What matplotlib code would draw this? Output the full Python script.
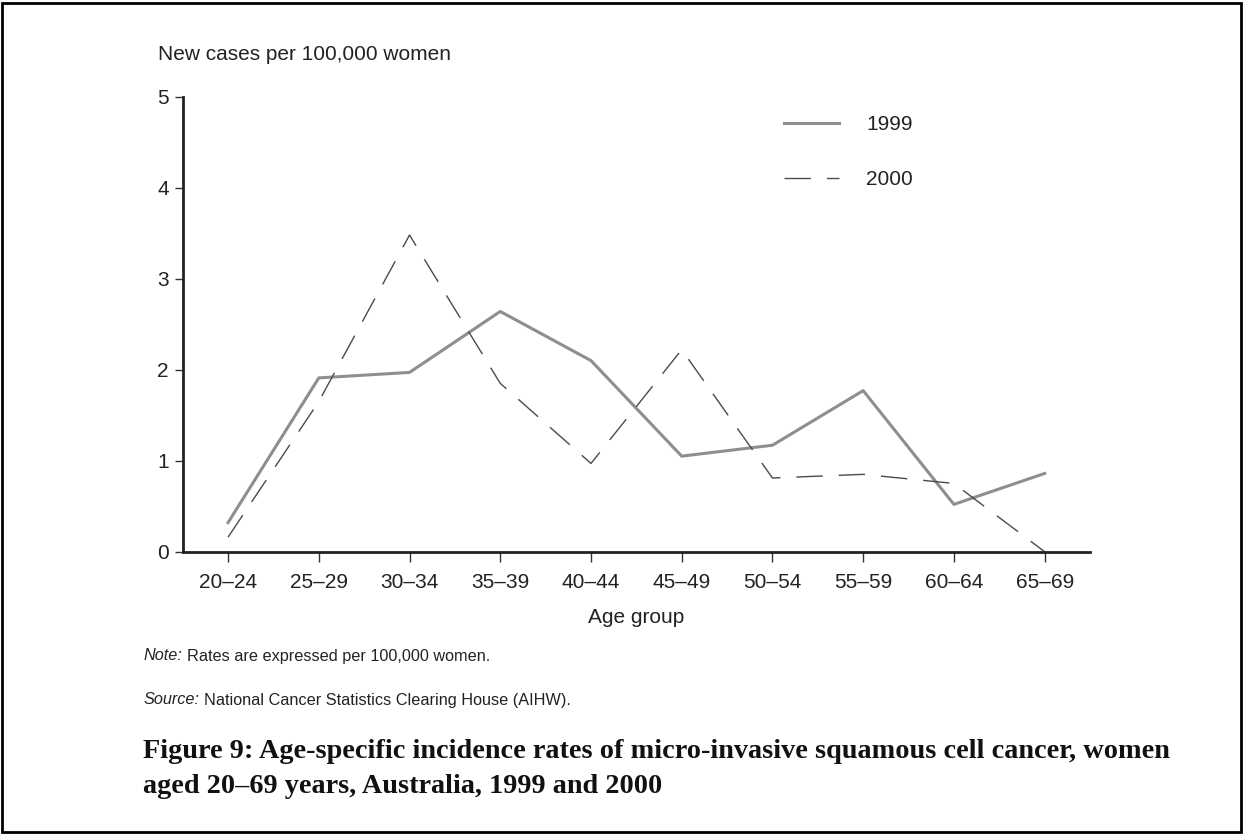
import matplotlib
matplotlib.use("Agg")
import matplotlib.pyplot as plt
from matplotlib.patches import Rectangle

age_groups = ["20\u201324", "25\u201329", "30\u201334", "35\u201339", "40\u201344",
              "45\u201349", "50\u201354", "55\u201359", "60\u201364", "65\u201369"]
rate_1999 = [0.32, 1.91, 1.97, 2.64, 2.10, 1.05, 1.17, 1.77, 0.52, 0.86]
rate_2000 = [0.16, 1.65, 3.48, 1.85, 0.97, 2.22, 0.81, 0.85, 0.75, 0.0]
y_ticks = [0, 1, 2, 3, 4, 5]

plt.rcParams["font.family"] = ["Liberation Sans", "DejaVu Sans"]

W, H = 1243, 835
FS = 15
fig = plt.figure(figsize=(W / 100, H / 100), dpi=100)
ax = fig.add_axes([182.7 / W, 1 - 551.7 / H, (1090 - 182.7) / W, (551.7 - 96.7) / H])

x = range(len(age_groups))
ax.plot(x, rate_1999, color="#8e8e8e", lw=2.2, label="1999")
ax.plot(x, rate_2000, color="#4a4a4a", lw=1.0, dashes=(19, 11.5), label="2000")

ax.set_xlim(-0.5, 9.5)
ax.set_ylim(0, 5)
ax.set_xticks(list(x))
ax.set_xticklabels(age_groups)
ax.set_yticks(y_ticks)
for s in ("top", "right"):
    ax.spines[s].set_visible(False)
for s in ("left", "bottom"):
    ax.spines[s].set_linewidth(2.0)
    ax.spines[s].set_color("#222222")
ax.tick_params(axis="x", length=7, width=1, color="#333333", labelsize=FS,
               labelcolor="#222222", pad=8)
ax.tick_params(axis="y", length=6, width=1, color="#333333", labelsize=FS,
               labelcolor="#222222", pad=4)
ax.set_xlabel("Age group", fontsize=FS, color="#222222", labelpad=12)

fig.text(158 / W, 1 - 55 / H, "New cases per 100,000 women", fontsize=FS,
         color="#222222", va="center", ha="left")

leg = ax.legend(loc="upper left", bbox_to_anchor=(784 / W, 1 - 115 / H),
                bbox_transform=fig.transFigure, frameon=False, fontsize=FS,
                handlelength=2.65, handletextpad=1.3, labelspacing=1.75,
                borderpad=0, borderaxespad=0)
for t in leg.get_texts():
    t.set_color("#222222")

# note and source lines: italic lead-in followed by roman text
fig.canvas.draw()
r = fig.canvas.get_renderer()
for ypix, lead, rest in [(656, "Note:", "Rates are expressed per 100,000 women."),
                         (700, "Source:", "National Cancer Statistics Clearing House (AIHW).")]:
    t = fig.text(144 / W, 1 - ypix / H, lead, fontsize=11.7, style="italic",
                 color="#222222", va="center", ha="left")
    bb = t.get_window_extent(r)
    fig.text((bb.x1 + 4) / W, 1 - ypix / H, rest, fontsize=11.7,
             color="#222222", va="center", ha="left")

title_lines = ["Figure 9: Age-specific incidence rates of micro-invasive squamous cell cancer, women",
               "aged 20\u201369 years, Australia, 1999 and 2000"]
for ypix, line in zip([758, 793], title_lines):
    fig.text(143 / W, 1 - ypix / H, line, fontsize=20.3, fontweight="bold",
             family=["Liberation Serif"], color="#111111", va="baseline", ha="left")

fig.patches.append(Rectangle((2 / W, 3 / H), (W - 4) / W, (H - 6) / H,
                             transform=fig.transFigure, fill=False,
                             edgecolor="black", lw=2))

fig.savefig("out.png", dpi=100)
